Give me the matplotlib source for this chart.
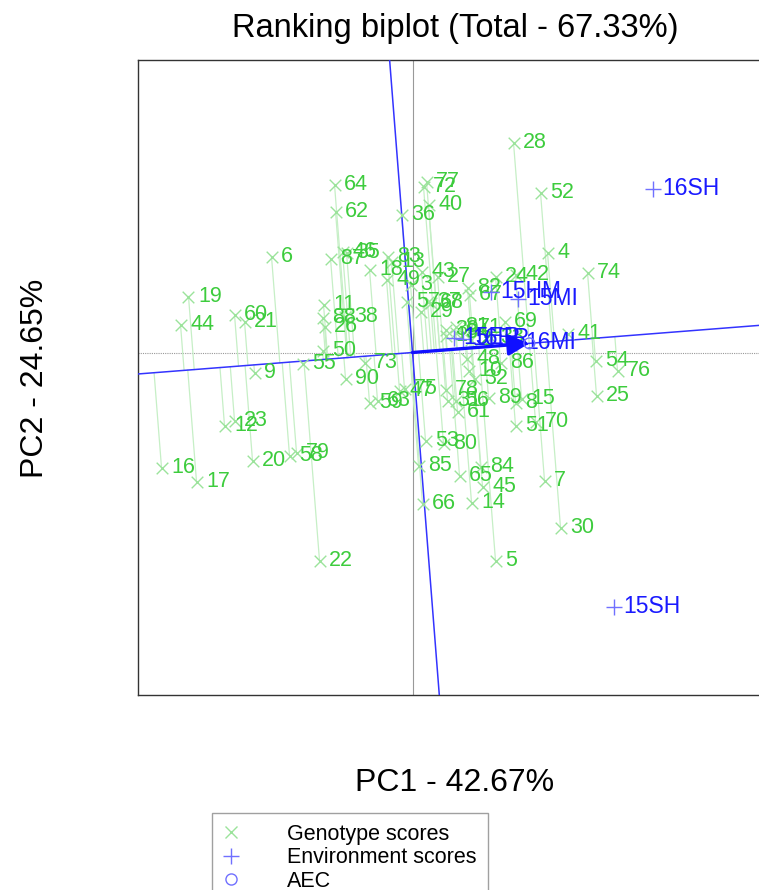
import numpy as np
import matplotlib
matplotlib.use("Agg")
import matplotlib.pyplot as plt
from matplotlib.lines import Line2D

plt.rcParams['font.family'] = ['Liberation Sans', 'DejaVu Sans']

# genotype scores (PC1, PC2)
gen_names = [str(i) for i in range(1, 91)]
gen_pc1 = [0.33, 0.58, -0.02, 1.35, 0.83, -1.41, 1.32, 1.03, -1.58, 0.56,
           -0.89, -1.88, -0.21, 0.59, 1.09, -2.51, -2.16, -0.43, -2.24, -1.60,
           -1.68, -0.93, -1.78, 0.83, 1.84, -0.88, 0.25, 1.01, 0.08, 1.48,
           0.35, 0.62, 0.78, 0.43, -0.66, -0.11, 0.15, -0.68, 0.33, 0.16,
           1.55, 1.03, 0.09, -2.32, 0.70, -0.70, -0.13, 0.54, -0.26, -0.90,
           1.03, 1.28, 0.13, 1.83, -1.10, 0.43, -0.06, -1.23, -0.43, -1.78,
           0.45, -0.77, -0.35, -0.78, 0.47, 0.10, 0.57, 0.18, 0.92, 1.23,
           0.56, 0.11, -0.48, 1.75, -0.08, 2.05, 0.14, 0.33, -1.16, 0.31,
           0.43, 0.55, -0.25, 0.68, 0.06, 0.88, -0.82, -0.90, 0.76, -0.67]
gen_pc2 = [0.17, 0.13, 0.68, 1.00, -2.08, 0.96, -1.28, -0.50, -0.20, -0.18,
           0.48, -0.73, 0.91, -1.50, -0.46, -1.15, -1.29, 0.83, 0.56, -1.08,
           0.31, -2.08, -0.68, 0.76, -0.43, 0.26, 0.76, 2.10, 0.41, -1.75,
           -0.48, -0.26, 0.15, 0.20, 1.00, 1.38, 0.51, 0.36, 0.23, 1.48,
           0.19, 0.78, 0.81, 0.28, -1.34, 1.01, -0.38, -0.06, 0.73, 0.02,
           -0.73, 1.60, -0.88, -0.08, -0.11, -0.48, 0.51, -1.03, -0.50, 0.38,
           -0.59, 1.41, -0.48, 1.68, -1.23, -1.51, 0.58, 0.50, 0.31, -0.69,
           0.25, 1.66, -0.10, 0.80, -0.36, -0.18, 1.71, -0.37, -1.00, -0.91,
           0.26, 0.65, 0.96, -1.14, -1.13, -0.10, 0.94, 0.35, -0.45, -0.26]

# environment scores
env_names = ['15ER', '15HM', '15MI', '15SH', '16ER', '16MI', '16SH']
env_pc1 = [0.41, 0.78, 1.05, 2.01, 0.50, 1.03, 2.40]
env_pc2 = [0.15, 0.61, 0.54, -2.54, 0.14, 0.10, 1.64]

gx = np.array(gen_pc1)
gy = np.array(gen_pc2)
ex = np.array(env_pc1)
ey = np.array(env_pc2)

# average environment coordinate -> AEC
mx, my = ex.mean(), ey.mean()
u = np.array([mx, my]) / np.hypot(mx, my)

fig = plt.figure(figsize=(7.59, 8.90), dpi=100)
ax = fig.add_axes([138/759, 195/890, 635/759, 635/890])
ax.set_xlim(-2.745, 3.605)
ax.set_ylim(-3.425, 2.925)
ax.set_xticks([])
ax.set_yticks([])
for s in ax.spines.values():
    s.set_color('#333333')
    s.set_linewidth(1)

ax.axhline(0, color='#999999', lw=0.8, ls=(0, (1, 1)), zorder=1)
ax.axvline(0, color='#999999', lw=0.8, zorder=1)

# projection of genotypes on the AEC abscissa
proj = gx * u[0] + gy * u[1]
for i in range(len(gx)):
    ax.plot([gx[i], proj[i] * u[0]], [gy[i], proj[i] * u[1]],
            color='#c6efc6', lw=0.9, zorder=2)

# AEC abscissa and ordinate
ax.axline((0, 0), (u[0], u[1]), color='#3333ff', lw=1.1, zorder=3)
ax.axline((0, 0), (-u[1], u[0]), color='#3333ff', lw=1.1, zorder=3)

ax.scatter(gx, gy, marker='x', s=70, color='#9be39b', linewidths=1, zorder=4)
for i in range(len(gx)):
    ax.annotate(gen_names[i], (gx[i], gy[i]), xytext=(7, 0),
                textcoords='offset points', ha='left', va='center',
                fontsize=15.5, color='#3dcc3d', zorder=5)

ax.scatter(ex, ey, marker='+', s=120, color='#7070ff', linewidths=1, zorder=6)
for i in range(len(ex)):
    ax.annotate(env_names[i], (ex[i], ey[i]), xytext=(7, 0),
                textcoords='offset points', ha='left', va='center',
                fontsize=16.5, color='#1a1aff', zorder=7)

ax.annotate('', xy=(mx, my), xytext=(0, 0),
            arrowprops=dict(arrowstyle='-|>', color='#1010ff', lw=2.4,
                            mutation_scale=32, shrinkA=0, shrinkB=0),
            zorder=8)
ax.scatter([mx], [my], marker='o', s=60, facecolors='none',
           edgecolors='#7070ff', linewidths=1, zorder=8)

fig.text(455/759, 1 - 28/890, 'Ranking biplot (Total - 67.33%)',
         ha='center', va='center', fontsize=23.5)
fig.text(455/759, 1 - 783/890, 'PC1 - 42.67%', ha='center', va='center',
         fontsize=23)
fig.text(35/759, 1 - 378/890, 'PC2 - 24.65%', ha='center', va='center',
         fontsize=23, rotation=90)

handles = [
    Line2D([], [], marker='x', ls='none', color='#9be39b', markersize=9),
    Line2D([], [], marker='+', ls='none', color='#7070ff', markersize=12),
    Line2D([], [], marker='o', ls='none', markerfacecolor='none',
           markeredgecolor='#7070ff', markersize=8),
]
leg = fig.legend(handles, ['Genotype scores', 'Environment scores', 'AEC'],
                 loc='upper left', bbox_to_anchor=(212/759, 1 - 813/890),
                 fontsize=15.5, frameon=True, fancybox=False, edgecolor='#888888',
                 handletextpad=2.2, labelspacing=0.12, borderpad=0.5,
                 handlelength=0.8, borderaxespad=0)
leg.get_frame().set_linewidth(1)

fig.savefig('out.png', dpi=100)
